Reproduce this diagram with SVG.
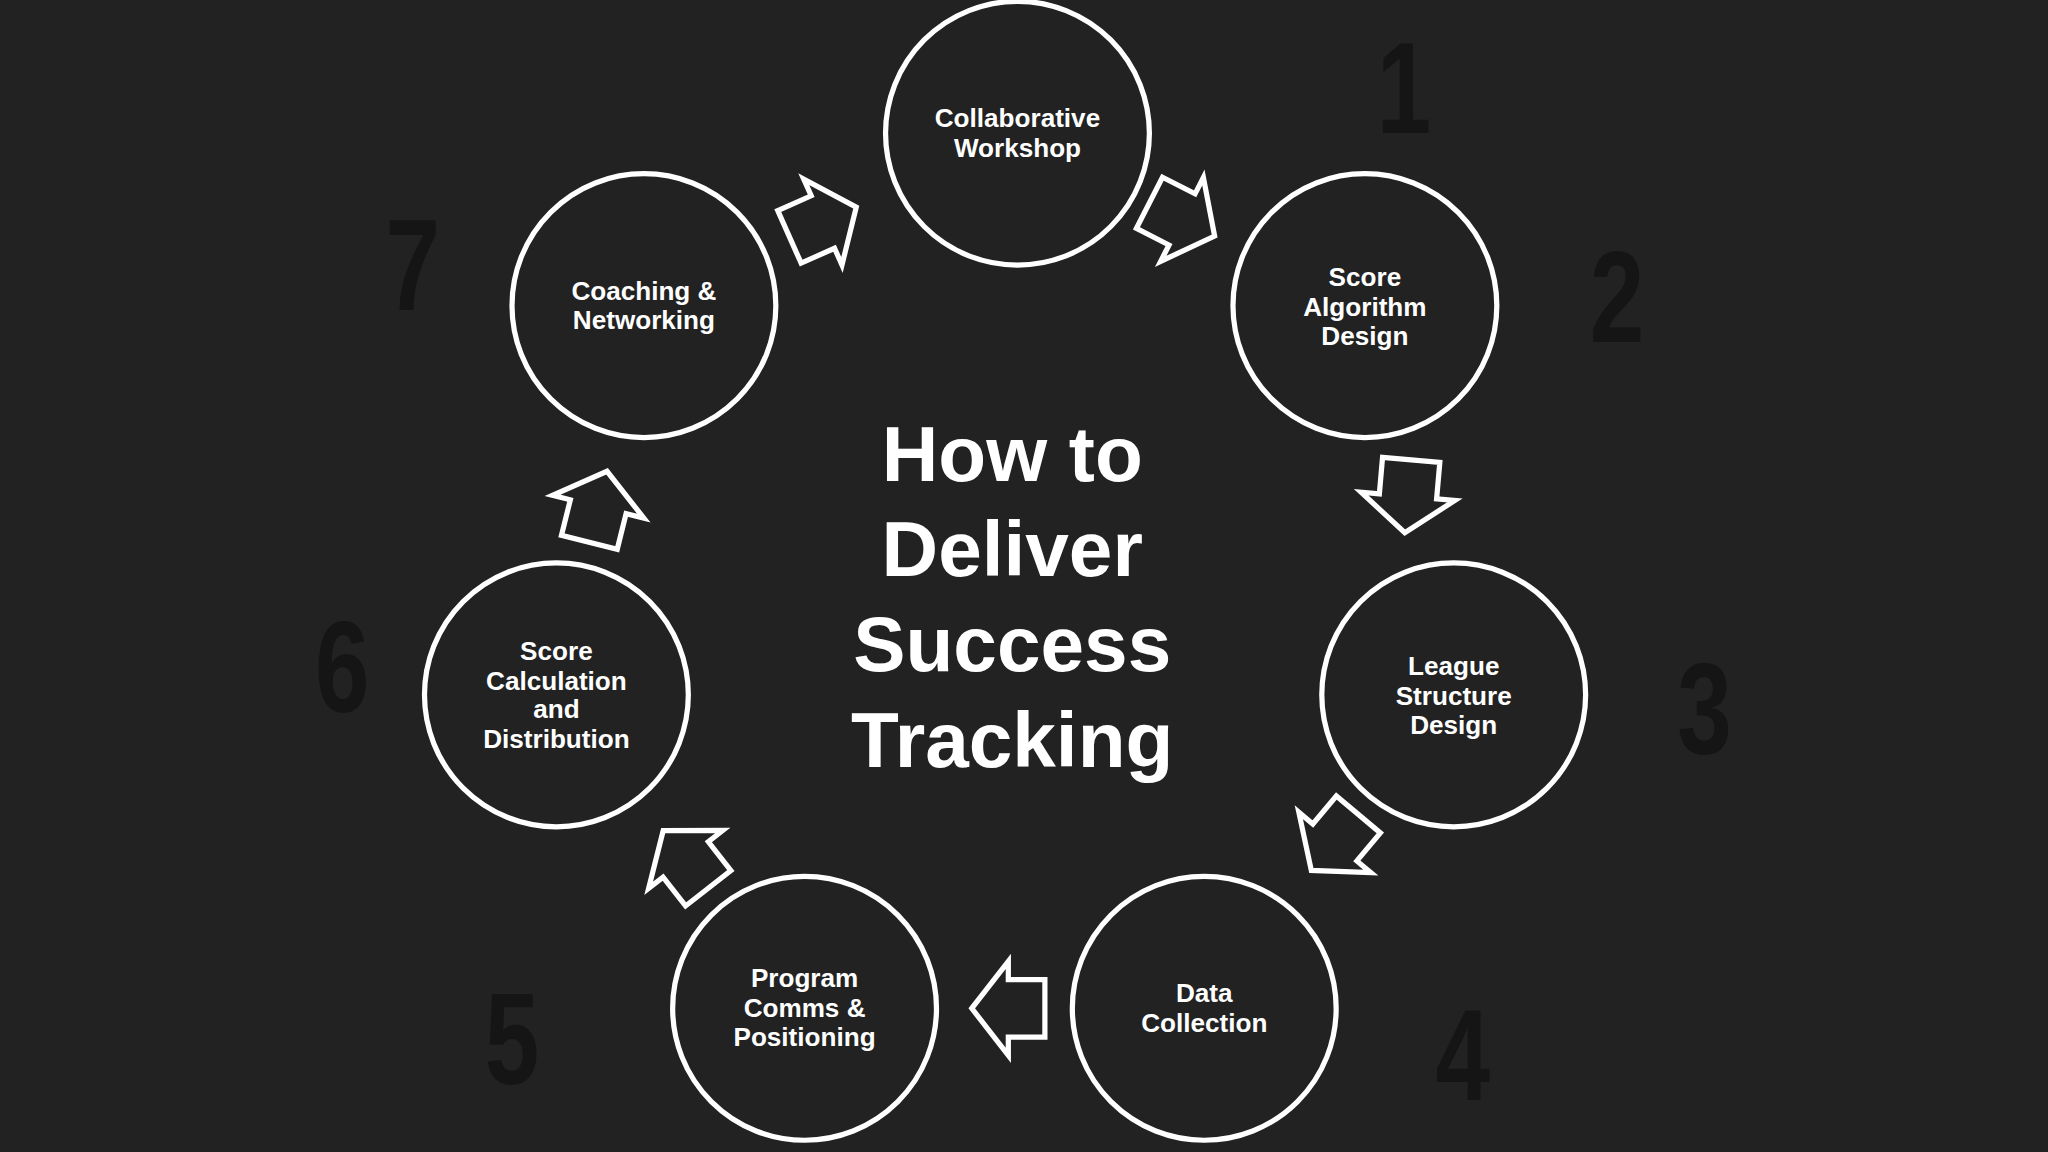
<svg xmlns="http://www.w3.org/2000/svg" width="2048" height="1152" viewBox="0 0 2048 1152">
<defs>
<style>
.c{fill:#222222;stroke:#ffffff;stroke-width:4}
.t{fill:#ffffff;font-family:"Liberation Sans",Arial,sans-serif;font-weight:bold;font-size:20px;text-anchor:middle}
.n{fill:#151515;font-family:"Liberation Sans",Arial,sans-serif;font-weight:bold;font-size:100px;text-anchor:middle}
.h{fill:#ffffff;font-family:"Liberation Sans",Arial,sans-serif;font-weight:bold;font-size:60px;text-anchor:middle}
.a{fill:none;stroke:#ffffff;stroke-width:4;stroke-linejoin:miter}
</style>
<polygon id="arr" class="a" points="-28,-22 0,-22 0,-36 28,0 0,36 0,22 -28,22"/>
</defs>
<rect width="2048" height="1152" fill="#222222"/>
<g transform="scale(1.30612)">
<g id="numbers">
<text class="n" x="1075" y="102" transform="translate(1075 102) scale(0.75 1) translate(-1075 -102)">1</text>
<text class="n" x="1238" y="262" transform="translate(1238 262) scale(0.75 1) translate(-1238 -262)">2</text>
<text class="n" x="1305" y="577" transform="translate(1305 577) scale(0.75 1) translate(-1305 -577)">3</text>
<text class="n" x="1120" y="842" transform="translate(1120 842) scale(0.75 1) translate(-1120 -842)">4</text>
<text class="n" x="392" y="830" transform="translate(392 830) scale(0.75 1) translate(-392 -830)">5</text>
<text class="n" x="262" y="545" transform="translate(262 545) scale(0.75 1) translate(-262 -545)">6</text>
<text class="n" x="316" y="237" transform="translate(316 237) scale(0.75 1) translate(-316 -237)">7</text>
</g>
<g id="connectors">
<use href="#arr" transform="translate(905 168) rotate(27)"/>
<use href="#arr" transform="translate(1078 380) rotate(95)"/>
<use href="#arr" transform="translate(1022 645) rotate(130)"/>
<use href="#arr" transform="translate(772 772) rotate(180)"/>
<use href="#arr" transform="translate(525 658) rotate(232)"/>
<use href="#arr" transform="translate(458 388) rotate(284)"/>
<use href="#arr" transform="translate(630 170) rotate(336)"/>
</g>
<g id="n1"><circle class="c" cx="779" cy="102" r="101"/><text class="t" x="779" y="97">Collaborative</text><text class="t" x="779" y="120">Workshop</text></g>
<g id="n2"><circle class="c" cx="1045" cy="234" r="101"/><text class="t" x="1045" y="219">Score</text><text class="t" x="1045" y="242">Algorithm</text><text class="t" x="1045" y="264">Design</text></g>
<g id="n3"><circle class="c" cx="1113" cy="532" r="101"/><text class="t" x="1113" y="517">League</text><text class="t" x="1113" y="540">Structure</text><text class="t" x="1113" y="562">Design</text></g>
<g id="n4"><circle class="c" cx="922" cy="772" r="101"/><text class="t" x="922" y="767">Data</text><text class="t" x="922" y="790">Collection</text></g>
<g id="n5"><circle class="c" cx="616" cy="772" r="101"/><text class="t" x="616" y="756">Program</text><text class="t" x="616" y="779">Comms &amp;</text><text class="t" x="616" y="801">Positioning</text></g>
<g id="n6"><circle class="c" cx="426" cy="532" r="101"/><text class="t" x="426" y="505">Score</text><text class="t" x="426" y="528">Calculation</text><text class="t" x="426" y="550">and</text><text class="t" x="426" y="573">Distribution</text></g>
<g id="n7"><circle class="c" cx="493" cy="234" r="101"/><text class="t" x="493" y="230">Coaching &amp;</text><text class="t" x="493" y="252">Networking</text></g>
<g id="title">
<text class="h" x="775" y="368">How to</text>
<text class="h" x="775" y="441">Deliver</text>
<text class="h" x="775" y="514">Success</text>
<text class="h" x="775" y="587">Tracking</text>
</g>
</g>
</svg>
